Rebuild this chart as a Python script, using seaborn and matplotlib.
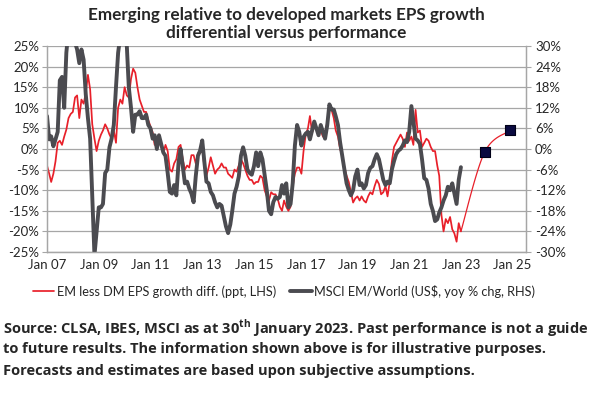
import numpy as np
import pandas as pd
import matplotlib
matplotlib.use("Agg")
import matplotlib.pyplot as plt
import matplotlib.dates as mdates
import seaborn as sns

# ---------------- data (monthly) ----------------
dates = pd.date_range("2007-01-01", "2023-01-01", freq="MS")

eps_diff = [  # EM less DM EPS growth diff. (ppt, LHS)
    -4, -6, -8, -6, -3, 1.5, 2, 1, 3, 4.7, 7.5, 8.5,
    9, 12.5, 13, 7.5, 12, 11, 13.5, 18, 14.5, 6, 2.5, -0.5,
    2, 3.5, 4.5, 6, 5, 3.5, 2.5, 4.5, 1.5, 10, 12, 11,
    15, 13, 12.5, 17, 19.5, 18.5, 15, 12, 10.5, 9, 9, 7,
    5.5, 4, 1, 2, 3.5, 1, -1, 1, -0.5, -5, -5.5, -3.5,
    -2.5, 0.5, 1, -2.5, -5, -4, -4.5, -1.5, -1.5, -3.5, -1, -1,
    0, -4.5, -6.5, -4.5, -2, -4, -6, -5, -4.5, -3.5, -4.5, -4.5,
    -6, -6.5, -7, -5, -5.5, -4, -2.5, -3.5, -5, -6.5, -7.5, -7.5,
    -8.5, -8, -8, -6.5, -7, -10, -11.5, -12.5, -10.5, -11, -11, -12,
    -14, -15, -12.5, -14, -15, -14, -9, -6, -4.5, -4.5, -6, -0.5,
    3.5, 5, 8, 4, 5.5, 5, 4, 4.5, 3, 4, 6.5, 9.5,
    9.5, 7.5, 4.5, 3, 0, -1.5, -4.5, -6.5, -8, -10.5, -13, -12,
    -11.5, -12.5, -11.5, -12.5, -13, -11.5, -10.5, -11, -9, -7.5, -8.5, -11,
    -10.5, -9, -11.5, -8, -3, 0.5, 1.5, 2.5, 3.5, 2.5, 0.5, 4,
    2, 3, 1, 9.5, 4, 4.5, 0.5, 1.5, 2.5, 2, 0.5, -0.5,
    -0.5, -4, -6.5, -16, -20, -17, -18, -16.5, -19.5, -20.5, -22.5, -18,
    -20,
]

msci_rel = [  # MSCI EM/World (US$, yoy % chg, RHS)
    9.6, 2.8, 3.7, 0.8, 2.8, 5, 20, 21, 12, 28, 35, 33,
    32, 31, 29, 25, 29, 26, 16, 9, 3, -14, -31, -24,
    -17, -17, -16, -7, -6, 0.5, 3, 7, 18, 28, 33, 35,
    34, 30, 18, 12, 5, 10, 10, 11, 9, 9, 10, 7,
    6, 3, 4, 0, 4, 1.5, -1, -2, -7, -12.5, -13, -10.5,
    -13.5, -4, 0, -5, -10, -9.5, -11.5, -13, -15.5, -8, -2, -0.5,
    2.5, -4, -9.5, -10, -12.5, -13.5, -15.5, -17, -16, -16.5, -19.5, -22.5,
    -24.5, -22, -18, -13, -11, -8, -2, 0.5, -2, -6, -7, -7.5,
    -5, -1, -5, -1, -3, -7.5, -12, -18, -19, -15.5, -14, -14.5,
    -14, -10.5, -13, -10, -17, -16, -10, 1, 7, 5, 1, 3.5,
    4.5, 5, 2.8, 5.5, 8, 6, 4, 7, 5, 3, 7, 13,
    11.5, 11.5, 9.5, 7, 2, -2, -6, -10, -12, -13.5, -12, -8,
    -6, -10.5, -10, -11.5, -10.5, -7, -5.5, -5, -3, -1.5, -3, -6,
    -9, -10.5, -9.5, -10, -6, -3.5, -1.5, -0.5, 0, 1, 2.5, 2,
    5, 12.5, 8, 3, 2.5, 1.5, -3, -8.5, -9, -11.5, -16, -18,
    -21, -20.5, -18.5, -17, -15, -13.5, -11, -12, -10, -13, -16, -9,
    -5.3,
]

fc_dates = pd.to_datetime(["2023-12-01", "2024-12-01"])
fc_values = [-0.8, 4.5]

left_ticks = list(range(-25, 26, 5))
right_ticks = list(range(-30, 31, 6))
year_ticks = pd.to_datetime([f"{y}-01-01" for y in range(2007, 2026, 2)])

df = pd.DataFrame({"date": dates, "eps": eps_diff, "msci": msci_rel})
fc = pd.DataFrame({"date": fc_dates, "val": fc_values})

# ---------------- style ----------------
sns.set_style("white")
plt.rcParams["font.family"] = ["Lato", "DejaVu Sans"]
plt.rcParams["mathtext.fontset"] = "custom"
plt.rcParams["mathtext.rm"] = "Open Sans"
plt.rcParams["mathtext.bf"] = "Open Sans:bold"

RED = "#e8202a"
GREY = "#4b4b50"
GRID = "#a6a6a6"

W, H = 598, 394
fig = plt.figure(figsize=(W / 100, H / 100), dpi=100)
ax = fig.add_axes([47 / W, (H - 252) / H, (526 - 47) / W, (252 - 46) / H])
ax2 = ax.twinx()

sns.lineplot(data=df, x="date", y="eps", ax=ax, color=RED, lw=1.25,
             label="EM less DM EPS growth diff. (ppt, LHS)", legend=False)
sns.lineplot(data=df, x="date", y="msci", ax=ax2, color=GREY, lw=2.8,
             label="MSCI EM/World (US$, yoy % chg, RHS)", legend=False)

# smoothed forecast connector (Catmull-Rom through last actual + forecasts)
px = np.concatenate([[mdates.date2num(dates[-1])], mdates.date2num(fc_dates)])
py = np.array([eps_diff[-1]] + fc_values, dtype=float)
P = np.column_stack([px, py])
Pext = np.vstack([P[0], P, P[-1]])
curve = []
t = np.linspace(0, 1, 40)[:, None]
for i in range(1, len(Pext) - 2):
    p0, p1, p2, p3 = Pext[i - 1], Pext[i], Pext[i + 1], Pext[i + 2]
    c = 0.5 * (2 * p1 + (-p0 + p2) * t + (2 * p0 - 5 * p1 + 4 * p2 - p3) * t ** 2
               + (-p0 + 3 * p1 - 3 * p2 + p3) * t ** 3)
    curve.append(c)
curve = np.vstack(curve)
ax.plot(mdates.num2date(curve[:, 0]), curve[:, 1], color=RED, lw=0.9, zorder=3)
sns.scatterplot(data=fc, x="date", y="val", ax=ax, marker="s", s=55,
                color="#0a0a40", edgecolor="#000018", linewidth=0.8, zorder=5,
                legend=False)

# axes
ax.set_xlim(pd.Timestamp("2007-01-01"), pd.Timestamp("2025-07-08"))
ax.set_ylim(-25, 25)
ax2.set_ylim(-30, 30)
ax.set_yticks(left_ticks)
ax.set_yticklabels([f"{v}%" for v in left_ticks])
ax2.set_yticks(right_ticks)
ax2.set_yticklabels([f"{v}%" for v in right_ticks])
ax.set_xticks(year_ticks)
ax.set_xticklabels([d.strftime("Jan %y") for d in year_ticks])
ax.set_xlabel("")
ax.set_ylabel("")
ax2.set_ylabel("")

ax.grid(axis="y", color=GRID, lw=0.9)
ax.set_axisbelow(True)
for a in (ax, ax2):
    a.spines["top"].set_visible(False)
    for s in ("left", "right", "bottom"):
        a.spines[s].set_color(GRID)
        a.spines[s].set_linewidth(0.9)
ax.tick_params(axis="y", length=3.5, width=0.8, color=GRID, pad=2, labelsize=9.5)
ax2.tick_params(axis="y", length=3.5, width=0.8, color=GRID, pad=3, labelsize=9.5)
ax.tick_params(axis="x", length=0, pad=5, labelsize=9.5)

# title
tx = 286 / W
fig.text(tx, 1 - 15 / H, "Emerging relative to developed markets EPS growth",
         ha="center", va="center", fontsize=12.3, fontweight="bold")
fig.text(tx, 1 - 33 / H, "differential versus performance",
         ha="center", va="center", fontsize=12.3, fontweight="bold")

# legend
h1, l1 = ax.get_legend_handles_labels()
h2, l2 = ax2.get_legend_handles_labels()
fig.legend(h1[:1] + h2, l1[:1] + l2, loc="center", bbox_to_anchor=(284 / W, 1 - 291 / H),
           ncol=2, frameon=False, fontsize=9.2, handlelength=1.7,
           handletextpad=0.2, columnspacing=1.1)

# footnote
foot = [
    r"Source: CLSA, IBES, MSCI as at 30$^{\mathbf{th}}$ January 2023. Past performance is not a guide",
    "to future results. The information shown above is for illustrative purposes.",
    "Forecasts and estimates are based upon subjective assumptions.",
]
for i, line in enumerate(foot):
    fig.text(3 / W, 1 - (328 + 21.5 * i) / H, line, ha="left", va="center",
             fontsize=10.5, fontweight="bold", family=["Open Sans", "DejaVu Sans"])

fig.savefig("out.png", dpi=100)
